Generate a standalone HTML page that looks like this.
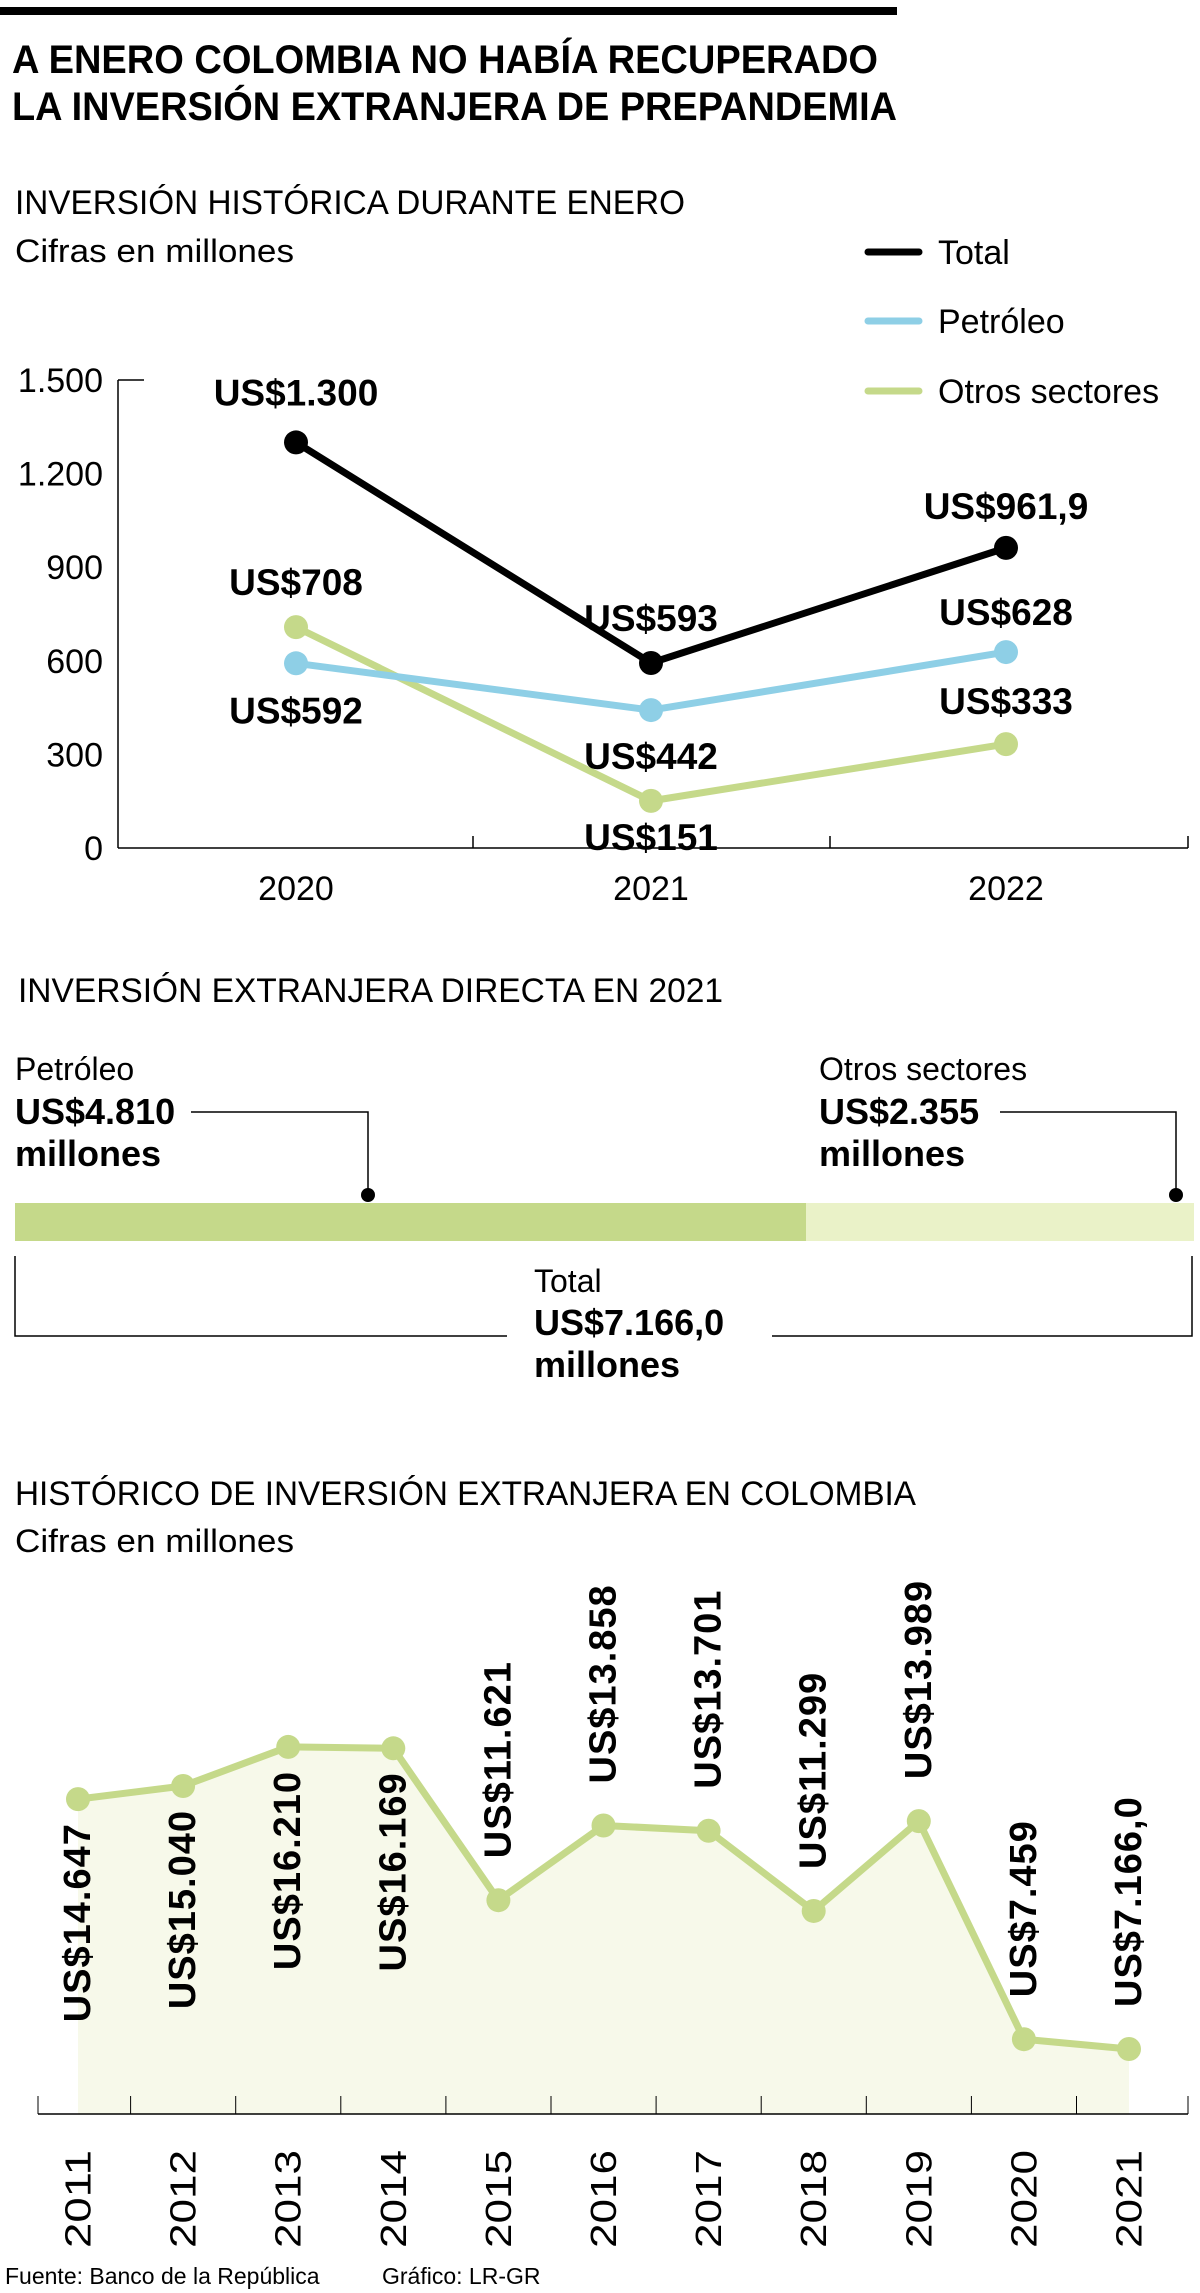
<!DOCTYPE html>
<html><head><meta charset="utf-8">
<style>
html,body{margin:0;padding:0;background:#fff;}
svg{display:block;font-family:"Liberation Sans Narrow","Liberation Sans",sans-serif;}
.b{font-weight:bold;}
</style></head>
<body>
<svg id="root" width="1200" height="2293" viewBox="0 0 1200 2293" xmlns="http://www.w3.org/2000/svg">
  <rect x="0" y="7" width="897" height="8" fill="#000"/>
  <text x="12" y="73" font-size="40" class="b" textLength="866" lengthAdjust="spacingAndGlyphs">A ENERO COLOMBIA NO HABÍA RECUPERADO</text>
  <text x="12" y="120" font-size="40" class="b" textLength="885" lengthAdjust="spacingAndGlyphs">LA INVERSIÓN EXTRANJERA DE PREPANDEMIA</text>

  <g id="chart1">
    <text x="15" y="214" font-size="34" textLength="670" lengthAdjust="spacingAndGlyphs">INVERSIÓN HISTÓRICA DURANTE ENERO</text>
    <text x="15" y="262" font-size="32" textLength="279" lengthAdjust="spacingAndGlyphs">Cifras en millones</text>
  </g>

  <g id="chart2">
    <text x="18" y="1002" font-size="34" textLength="705" lengthAdjust="spacingAndGlyphs">INVERSIÓN EXTRANJERA DIRECTA EN 2021</text>
    <text x="15" y="1080" font-size="32">Petróleo</text>
    <text x="15" y="1124" font-size="36" class="b">US$4.810</text>
    <text x="15" y="1166" font-size="36" class="b">millones</text>
    <text x="819" y="1080" font-size="32">Otros sectores</text>
    <text x="819" y="1124" font-size="36" class="b">US$2.355</text>
    <text x="819" y="1166" font-size="36" class="b">millones</text>
    <rect x="15" y="1203" width="791" height="38" fill="#c5d98a"/>
    <rect x="806" y="1203" width="388" height="38" fill="#eaf2c8"/>
    <polyline points="191,1112 368,1112 368,1195" fill="none" stroke="#000" stroke-width="1.5"/>
    <circle cx="368" cy="1195" r="7" fill="#000"/>
    <polyline points="1000,1112 1176,1112 1176,1195" fill="none" stroke="#000" stroke-width="1.5"/>
    <circle cx="1176" cy="1195" r="7" fill="#000"/>
    <polyline points="507,1336 15,1336 15,1256" fill="none" stroke="#000" stroke-width="1.5"/>
    <polyline points="772,1336 1192,1336 1192,1256" fill="none" stroke="#000" stroke-width="1.5"/>
    <text x="534" y="1292" font-size="32">Total</text>
    <text x="534" y="1335" font-size="36" class="b">US$7.166,0</text>
    <text x="534" y="1377" font-size="36" class="b">millones</text>
  </g>

  <g id="chart3">
    <text x="15" y="1505" font-size="34" textLength="901" lengthAdjust="spacingAndGlyphs">HISTÓRICO DE INVERSIÓN EXTRANJERA EN COLOMBIA</text>
    <text x="15" y="1552" font-size="32" textLength="279" lengthAdjust="spacingAndGlyphs">Cifras en millones</text>
  </g>

  <text x="5" y="2284" font-size="23">Fuente: Banco de la República</text>
  <text x="382" y="2284" font-size="23">Gráfico: LR-GR</text>
</svg>
<script>
// Chart 1 data
const c1Years = ["2020","2021","2022"];
const c1Total = [1300, 593, 961.9];
const c1Petroleo = [592, 442, 628];
const c1Otros = [708, 151, 333];
const c1TotalLabels = ["US$1.300","US$593","US$961,9"];
const c1PetroleoLabels = ["US$592","US$442","US$628"];
const c1OtrosLabels = ["US$708","US$151","US$333"];
const c1Ticks = [0,300,600,900,1200,1500];
const c1TickLabels = ["0","300","600","900","1.200","1.500"];

// Chart 3 data
const c3Years = ["2011","2012","2013","2014","2015","2016","2017","2018","2019","2020","2021"];
const c3Values = [14647,15040,16210,16169,11621,13858,13701,11299,13989,7459,7166];
const c3Labels = ["US$14.647","US$15.040","US$16.210","US$16.169","US$11.621","US$13.858","US$13.701","US$11.299","US$13.989","US$7.459","US$7.166,0"];
const c3Below = [true,true,true,true,false,false,false,false,false,false,false];

const NS = "http://www.w3.org/2000/svg";
function mk(tag, attrs, parent, txt){
  const e = document.createElementNS(NS, tag);
  for (const k in attrs) e.setAttribute(k, attrs[k]);
  if (txt !== undefined) e.textContent = txt;
  parent.appendChild(e);
  return e;
}

// ---------- Chart 1 ----------
(function(){
  const g = document.getElementById('chart1');
  const y = v => 848 - v / 1500 * (848 - 380);
  const x = i => 296 + i * 355;
  let e;
  e = mk('line', {x1:118,y1:380,x2:118,y2:848,stroke:'#000','stroke-width':1.5}, g);
  
  
  e = mk('line', {x1:118,y1:848,x2:1188,y2:848,stroke:'#000','stroke-width':1.5}, g);
  
  
  e = mk('line', {x1:118,y1:y(1500),x2:144,y2:y(1500),stroke:'#000','stroke-width':1.5}, g);
  
  
  [473, 830, 1188].forEach(tx => {
    const t = mk('line', {x1:tx,y1:836,x2:tx,y2:848,stroke:'#000','stroke-width':1.5}, g);
    
    
  });
  c1Ticks.forEach((v, i) => {
    const t = mk('text', {x:103,y:y(v)+12,'font-size':34,'text-anchor':'end'}, g, c1TickLabels[i]);
    
    
  });
  c1Years.forEach((yr, i) => {
    const t = mk('text', {x:x(i),y:900,'font-size':34,'text-anchor':'middle'}, g, yr);
    
    
  });
  const series = [
    {vals:c1Otros, color:'#c5d98a', name:'otros-sectores', labels:c1OtrosLabels, off:[-45,36,-43]},
    {vals:c1Petroleo, color:'#8ecfe6', name:'petroleo', labels:c1PetroleoLabels, off:[47,46,-40]},
    {vals:c1Total, color:'#000', name:'total', labels:c1TotalLabels, off:[-50,-45,-42]}
  ];
  series.forEach(s => {
    const pl = mk('polyline', {points:s.vals.map((v,i)=>x(i)+','+y(v)).join(' '),fill:'none',stroke:s.color,'stroke-width':7,'stroke-linejoin':'round'}, g);
    
    
    s.vals.forEach((v, i) => {
      const c = mk('circle', {cx:x(i),cy:y(v),r:12,fill:s.color}, g);
      
      
    });
  });
  series.forEach(s => {
    s.vals.forEach((v, i) => {
      const t = mk('text', {x:x(i),y:y(v)+s.off[i]+13,'font-size':37,'font-weight':'bold','text-anchor':'middle'}, g, s.labels[i]);
      
      
    });
  });
  const leg = [['Total','#000',264],['Petróleo','#8ecfe6',333],['Otros sectores','#c5d98a',403]];
  leg.forEach(l => {
    const ln = mk('line', {x1:868,y1:l[2]-12,x2:919,y2:l[2]-12,stroke:l[1],'stroke-width':7,'stroke-linecap':'round'}, g);
    
    
    const t = mk('text', {x:938,y:l[2],'font-size':34}, g, l[0]);
    
    
  });
})();

// ---------- Chart 3 ----------
(function(){
  const g = document.getElementById('chart3');
  const base = 2114;
  const y = v => 2049 - (v - 7166) * 0.0334;
  const x = i => 78 + i * 105.1;
  let e;
  const pts = c3Values.map((v,i)=>x(i)+','+y(v));
  e = mk('polygon', {points: x(0)+','+base+' '+pts.join(' ')+' '+x(c3Values.length-1)+','+base, fill:'#f7f9ea'}, g);
  
  
  e = mk('line', {x1:38,y1:base,x2:1188,y2:base,stroke:'#000','stroke-width':1.5}, g);
  
  
  for (let i = 0; i <= c3Years.length; i++) {
    const tx = i === 0 ? 38 : (i === c3Years.length ? 1188 : x(i) - 52.5);
    const t = mk('line', {x1:tx,y1:base-18,x2:tx,y2:base,stroke:'#000','stroke-width':1}, g);
    
    
  }
  e = mk('polyline', {points:pts.join(' '),fill:'none',stroke:'#c5d98a','stroke-width':7,'stroke-linejoin':'round'}, g);
  
  
  c3Values.forEach((v, i) => {
    const c = mk('circle', {cx:x(i),cy:y(v),r:12,fill:'#c5d98a'}, g);
    
    
    const ly = c3Below[i] ? y(v) + 24 : y(v) - 42;
    const t = mk('text', {x:0,y:0,'font-size':38,'font-weight':'bold','letter-spacing':'1','dominant-baseline':'central','text-anchor':c3Below[i]?'end':'start',transform:'translate('+x(i)+','+ly+') rotate(-90)'}, g, c3Labels[i]);
    
    
    const yl = mk('text', {x:0,y:0,'font-size':36,'textLength':98,'lengthAdjust':'spacingAndGlyphs','dominant-baseline':'central','text-anchor':'start',transform:'translate('+x(i)+',2248) rotate(-90)'}, g, c3Years[i]);
    
    
  });
})();
</script>
</body></html>
